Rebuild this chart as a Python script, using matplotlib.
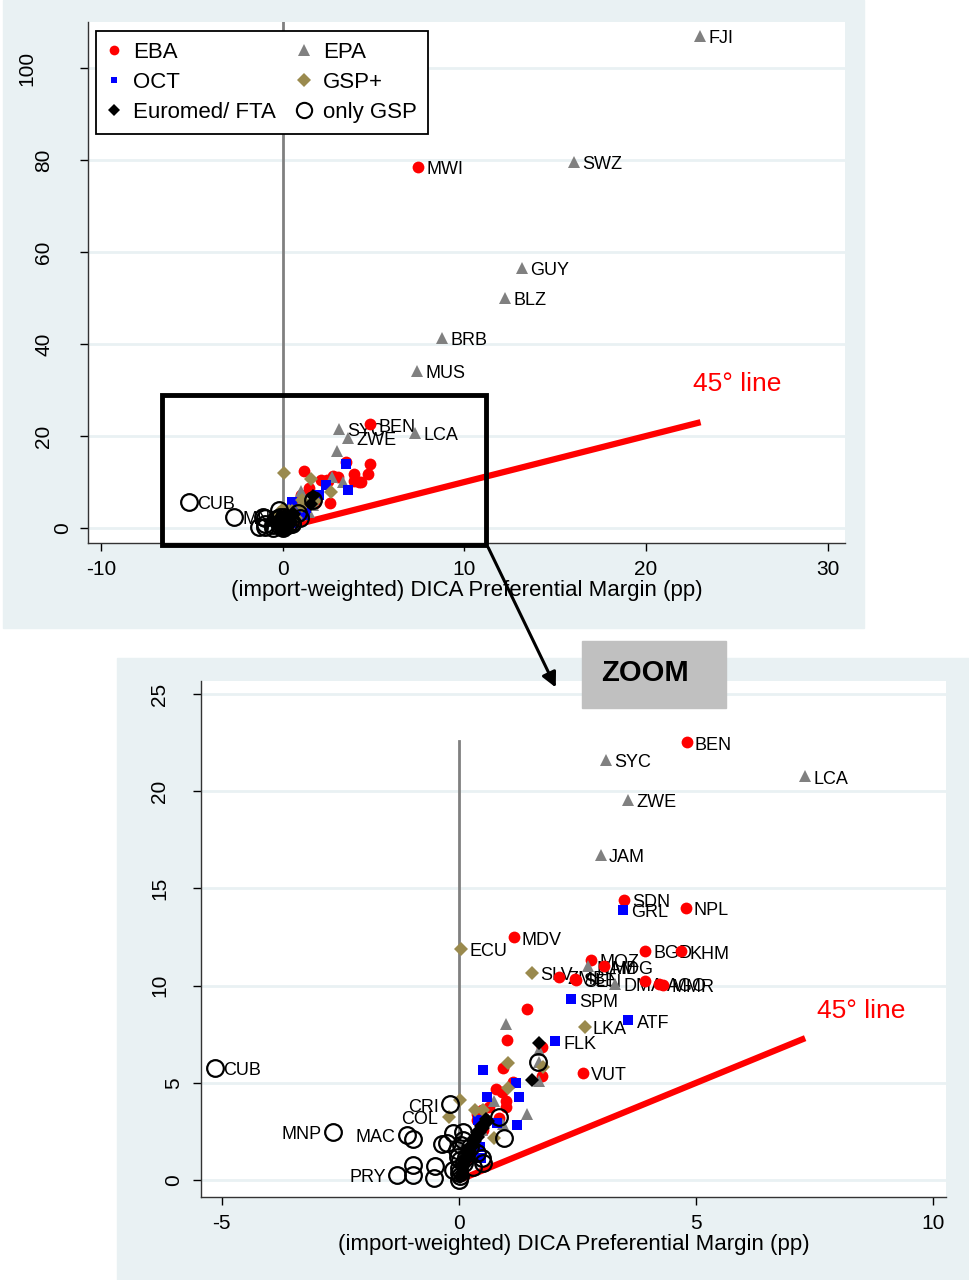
import numpy as np
import matplotlib
matplotlib.use("Agg")
import matplotlib.pyplot as plt
from matplotlib.lines import Line2D
from matplotlib.patches import Rectangle, FancyArrowPatch

plt.rcParams['font.family'] = ['Liberation Sans', 'DejaVu Sans']
plt.rcParams['axes.unicode_minus'] = False

# ---- data ----
# EBA
eba_x = [4.80, 3.47, 4.78, 1.15, 3.92, 4.68, 2.78, 3.05, 2.10, 2.45, 2.47, 3.93, 4.21, 4.30,
         1.43, 1.02, 0.93, 1.14, 1.75, 2.61, 1.75, 0.79, 0.90, 1.00, 1.00, 0.63, 0.49, 0.38,
         0.85, 0.26, 0.20, 0.38, 0.51, 0.23, 0.13, 7.46]
eba_y = [22.52, 14.41, 13.99, 12.48, 11.79, 11.76, 11.32, 10.99, 10.44, 10.34, 10.30, 10.23, 10.10, 10.05,
         8.80, 7.18, 5.76, 5.04, 5.36, 5.50, 6.83, 4.68, 4.52, 4.05, 3.78, 3.78, 3.63, 3.42,
         3.20, 1.53, 1.10, 3.09, 2.57, 1.39, 0.93, 78.5]
eba_id = ['BEN', 'SDN', 'NPL', 'MDV', 'BGD', 'KHM', 'MOZ', 'MDG', 'ZMB', 'SLE', 'SEN', '', 'AGO', 'MMR',
          '', '', '', '', '', 'VUT', '', '', '', '', '', '', '', '',
          '', '', '', '', '', '', '', 'MWI']

# OCT
oct_x = [3.46, 2.36, 3.57, 2.02, 0.50, 1.20, 1.27, 0.59, 1.22, 0.80, 0.40, 0.44, 0.47]
oct_y = [13.90, 9.29, 8.21, 7.14, 5.66, 4.99, 4.27, 4.27, 2.83, 2.93, 3.09, 1.70, 1.16]
oct_id = ['GRL', 'SPM', 'ATF', 'FLK', '', '', '', '', '', '', '', '', '']

# Euromed / FTA
euro_x = [1.68, 1.55, 0.02, 0.06, 0.11, 0.14, 0.20, 0.24, 0.31, 0.34, 0.41, 0.44, 0.51, 0.55, 0.62,
          0.04, 0.09, 0.17, 0.22, 0.28, 0.37, 0.47, 0.58]
euro_y = [7.06, 5.15, 0.15, 0.42, 0.75, 0.98, 1.25, 1.52, 1.78, 2.02, 2.24, 2.49, 2.68, 2.88, 3.05,
          0.70, 1.05, 1.45, 1.70, 2.05, 2.45, 2.80, 3.15]
euro_id = [''] * len(euro_x)

# EPA
epa_x = [22.95, 16.05, 13.15, 12.25, 8.75, 7.41, 3.09, 7.30, 3.57, 2.99, 2.73, 3.29,
         1.00, 1.68, 1.68, 1.68, 1.43, 0.73, 0.93, 0.49]
epa_y = [107.0, 79.6, 56.5, 50.0, 41.3, 34.1, 21.6, 20.76, 19.56, 16.72, 10.99, 10.08,
         8.05, 6.68, 6.05, 5.10, 3.38, 4.05, 2.90, 2.58]
epa_id = ['FJI', 'SWZ', 'GUY', 'BLZ', 'BRB', 'MUS', 'SYC', 'LCA', 'ZWE', 'JAM', 'NAM', 'DMA',
          '', '', '', '', '', '', '', '']

# GSP+
gspp_x = [0.05, 1.53, 2.65, 1.04, 1.77, 1.04, 0.02, -0.21, 0.34, 0.51, 0.74]
gspp_y = [11.89, 10.65, 7.88, 6.00, 5.80, 4.73, 4.12, 3.24, 3.60, 3.60, 2.16]
gspp_id = ['ECU', 'SLV', 'LKA', '', '', '', '', 'COL', '', '', '']

# only GSP
gsp_x = [-5.15, -2.66, -1.10, -0.97, -0.19, -1.31, -0.97, -0.97, -0.51, -0.53, -0.36, -0.25,
         -0.13, 0.08, 0.85, 0.95, 1.67, -0.04, 0.02, 0.00, 0.00, 0.23, 0.38, 0.49, 0.51,
         0.30, -0.13, 0.08, 0.00, 0.02, -0.03, 0.10, 0.15, 0.05]
gsp_y = [5.76, 2.47, 2.31, 2.11, 3.90, 0.26, 0.77, 0.26, 0.72, 0.10, 1.85, 1.90,
         2.42, 2.47, 3.24, 2.16, 6.08, 1.54, 1.03, 0.36, 0.00, 1.70, 1.39, 1.13, 0.87,
         0.67, 0.51, 2.06, 0.60, 0.20, 1.20, 0.90, 1.20, 1.80]
gsp_id = ['CUB', 'MNP', 'MAC', '', 'CRI', 'PRY'] + [''] * (len(gsp_x) - 6)

# which labels each panel shows
top_labels = ['FJI', 'MWI', 'SWZ', 'GUY', 'BLZ', 'BRB', 'MUS', 'SYC', 'BEN', 'ZWE', 'LCA', 'CUB', 'MNP']
zoom_left_labels = ['MNP', 'MAC', 'CRI', 'COL', 'PRY']

top_yticks = [0, 20, 40, 60, 80, 100]
zoom_yticks = [0, 5, 10, 15, 20, 25]
line45_top_end = 23.0
line45_zoom_end = 7.3

groups = [
    ('EBA', eba_x, eba_y, eba_id, dict(marker='o', color='red', ms=8.5, mew=0), 3.0),
    ('EPA', epa_x, epa_y, epa_id, dict(marker='^', color='#808080', ms=9, mew=0), 3.1),
    ('OCT', oct_x, oct_y, oct_id, dict(marker='s', color='blue', ms=6.5, mew=0), 3.2),
    ('GSP+', gspp_x, gspp_y, gspp_id, dict(marker='D', color='#9a8a4e', ms=7.5, mew=0), 3.3),
    ('Euromed/ FTA', euro_x, euro_y, euro_id, dict(marker='D', color='black', ms=7.5, mew=0), 3.4),
    ('only GSP', gsp_x, gsp_y, gsp_id, dict(marker='o', mfc='none', mec='black', ms=12, mew=1.6), 3.5),
]

BG = '#e9f1f3'
fig = plt.figure(figsize=(9.69, 12.8), dpi=100)

# panel backgrounds
fig.add_artist(Rectangle((3 / 969, 1 - 628 / 1280), 861 / 969, 628 / 1280,
                         transform=fig.transFigure, color=BG, zorder=-5))
fig.add_artist(Rectangle((117 / 969, 0), 852 / 969, 622 / 1280,
                         transform=fig.transFigure, color=BG, zorder=-5))


def style_axes(ax, xt, yt, ylab_gap):
    ax.set_facecolor('white')
    for s in ['top', 'right']:
        ax.spines[s].set_visible(False)
    for s in ['left', 'bottom']:
        ax.spines[s].set_color('#333333')
        ax.spines[s].set_linewidth(1.0)
    ax.set_xticks(xt)
    ax.set_yticks(yt)
    ax.set_yticklabels([])
    ax.tick_params(direction='out', length=6, width=1, labelsize=15, pad=6)
    # rotated y labels, shifted left by label length as in the original
    for v in yt:
        s = str(v)
        ax.annotate(s, xy=(0, v), xycoords=('axes fraction', 'data'),
                    xytext=(-ylab_gap[len(s)], 0), textcoords='offset pixels',
                    rotation=90, ha='center', va='center', fontsize=15)
    for y in yt:
        ax.axhline(y, color=BG, lw=2, zorder=0.5)
    ax.set_xlabel('(import-weighted) DICA Preferential Margin (pp)', fontsize=16, labelpad=1)


def draw_points(ax, panel):
    for name, xs, ys, ids, kw, z in groups:
        ax.plot(xs, ys, ls='none', zorder=z, **kw)
        for x, y, code in zip(xs, ys, ids):
            if not code:
                continue
            if panel == 'top' and code not in top_labels:
                continue
            if panel == 'zoom' and code in zoom_left_labels:
                ax.annotate(code, (x, y), xytext=(-8, -2), textcoords='offset points',
                            ha='right', va='center', fontsize=13, zorder=2.5,
                            annotation_clip=True)
            else:
                ax.annotate(code, (x, y), xytext=(6, -2), textcoords='offset points',
                            ha='left', va='center', fontsize=13, zorder=2.5,
                            annotation_clip=True)


# ---- top panel ----
ax1 = fig.add_axes([88 / 969, 1 - 543 / 1280, 757 / 969, 521 / 1280])
style_axes(ax1, [-10, 0, 10, 20, 30], top_yticks, {1: 25, 2: 44, 3: 61})
ax1.set_xlim(-10.72, 30.95)
ax1.set_ylim(-3.26, 110)
ax1.plot([0, 0], [0, 110], color='#808080', lw=2, zorder=1)
ax1.plot([0, line45_top_end], [0, line45_top_end], color='red', lw=4.5, zorder=2,
         solid_capstyle='butt')
ax1.text(22.6, 31.3, '45° line', color='red', fontsize=19, ha='left', va='center')
draw_points(ax1, 'top')
ax1.add_patch(Rectangle((-6.64, -3.7), 17.85, 32.6, fill=False, ec='black', lw=3.5,
                        clip_on=False, zorder=6))

handles = [Line2D([], [], ls='none', marker='o', color='red', ms=7, mew=0),
           Line2D([], [], ls='none', marker='s', color='blue', ms=5, mew=0),
           Line2D([], [], ls='none', marker='D', color='black', ms=6, mew=0),
           Line2D([], [], ls='none', marker='^', color='#808080', ms=8, mew=0),
           Line2D([], [], ls='none', marker='D', color='#9a8a4e', ms=7, mew=0),
           Line2D([], [], ls='none', marker='o', mfc='none', mec='black', ms=11, mew=1.5)]
leg = ax1.legend(handles, ['EBA', 'OCT', 'Euromed/ FTA', 'EPA', 'GSP+', 'only GSP'],
                 ncol=2, loc='upper left', bbox_to_anchor=(0.0106, 0.983), borderaxespad=0,
                 fontsize=16, frameon=True, fancybox=False, edgecolor='black', framealpha=1,
                 handlelength=0.6, handletextpad=0.55, columnspacing=1.0, labelspacing=0.4,
                 borderpad=0.5)
leg.get_frame().set_linewidth(1.3)
leg.set_zorder(10)

# ---- zoom panel ----
ax2 = fig.add_axes([201 / 969, 1 - 1197 / 1280, 745 / 969, 516 / 1280])
style_axes(ax2, [-5, 0, 5, 10], zoom_yticks, {1: 27, 2: 41, 3: 55})
ax2.set_xlim(-5.44, 10.27)
ax2.set_ylim(-0.87, 25.67)
ax2.plot([0, 0], [0, 22.6], color='#808080', lw=2, zorder=1)
ax2.plot([0, line45_zoom_end], [0, line45_zoom_end], color='red', lw=4.5, zorder=2,
         solid_capstyle='butt')
ax2.text(7.55, 8.7, '45° line', color='red', fontsize=19, ha='left', va='center')
draw_points(ax2, 'zoom')

# ZOOM box and arrow
fig.add_artist(Rectangle((582 / 969, 1 - 708 / 1280), 144 / 969, 67 / 1280,
                         transform=fig.transFigure, color='#c0c0c0', zorder=4))
fig.text(645 / 969, 1 - 673 / 1280, 'ZOOM', fontsize=21, fontweight='bold',
         ha='center', va='center', zorder=5)
fig.add_artist(FancyArrowPatch((487 / 969, 1 - 545 / 1280), (557 / 969, 1 - 690 / 1280),
                               transform=fig.transFigure, arrowstyle='-|>',
                               mutation_scale=22, lw=2.2, color='black', zorder=8))

fig.savefig('out.png', dpi=100)
